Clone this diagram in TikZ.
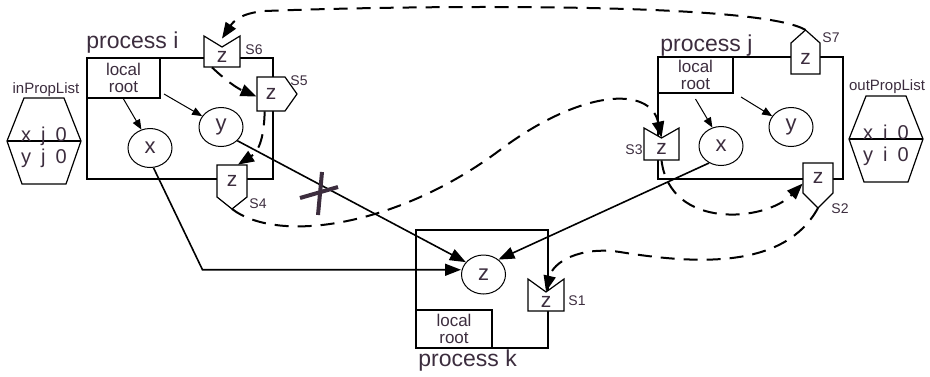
\documentclass[tikz,border=0pt]{standalone}
\usepackage{fontspec}
\setmainfont{Liberation Sans}
\usetikzlibrary{arrows.meta,positioning,shapes.geometric}
\definecolor{ink}{RGB}{60,45,62}
\tikzset{
  >={Triangle[length=8pt,width=6pt]},
  proc/.style={draw,line width=1pt,inner sep=0pt},
  root/.style={draw,line width=1pt,inner sep=0pt,align=center,
    font=\fontsize{8.5}{8.5}\selectfont,text=ink},
  var/.style={ellipse,draw,line width=0.5pt,minimum width=22pt,minimum height=19.5pt,
    inner sep=0pt,font=\fontsize{11}{13}\selectfont,text=ink},
  stubline/.style={draw=black,fill=white,line width=0.6pt},
  stubtext/.style={inner sep=0pt,font=\fontsize{10.5}{12}\selectfont,text=ink},
  tag/.style={font=\fontsize{7}{8}\selectfont,text=ink,inner sep=0pt},
  listtag/.style={font=\fontsize{7.5}{8}\selectfont,text=ink,inner sep=0pt,anchor=base},
  title/.style={font=\fontsize{11.5}{13}\selectfont,text=ink,inner sep=0pt,anchor=base west},
  entry/.style={font=\fontsize{10}{12}\selectfont,text=ink,inner sep=0pt,anchor=base},
  flow/.style={->,line width=0.8pt},
  link/.style={>={Triangle[length=5pt,width=4pt]},->,line width=0.5pt},
  msg/.style={->,line width=1pt,dash pattern=on 7pt off 4.5pt},
  % stubs: half width, half height, pointer depth (in px)
  pics/notchstub/.style n args={3}{code={
    \filldraw[stubline] (-#1,-#2) -- (0,-#2+#3) -- (#1,-#2) -- (#1,#2) -- (-#1,#2) -- cycle;
    \node[stubtext,minimum width=#1pt,minimum height=#2pt-#3pt/2] (-z) at (0,#3/2) {z};
  }},
  pics/downstub/.style n args={3}{code={
    \filldraw[stubline] (-#1,-#2) -- (#1,-#2) -- (#1,#2) -- (0,#2+#3) -- (-#1,#2) -- cycle;
    \node[stubtext,minimum width=#1pt,minimum height=#2pt] (-z) at (0,0) {z};
    \coordinate (-tip) at (0,#2+#3);
  }},
  pics/upstub/.style n args={3}{code={
    \filldraw[stubline] (-#1,#2) -- (-#1,-#2) -- (0,-#2-#3) -- (#1,-#2) -- (#1,#2) -- cycle;
    \node[stubtext,minimum width=#1pt,minimum height=#2pt] (-z) at (0,0) {z};
    \coordinate (-tip) at (0,-#2-#3);
  }},
  pics/rightstub/.style n args={3}{code={
    \filldraw[stubline] (-#1,-#2) -- (#1,-#2) -- (#1+#3,0) -- (#1,#2) -- (-#1,#2) -- cycle;
    \node[stubtext,minimum width=#1pt,minimum height=#2pt] (-z) at (0,0) {z};
    \coordinate (-tip) at (#1+#3,0);
  }},
  pics/proplist/.style={code={
    \draw[line width=0.6pt] (-20,-43) -- (20,-43) -- (37,0) -- (22,43) -- (-22,43) -- (-37,0) -- cycle;
    \draw[line width=0.8pt] (-37,0) -- (37,0);
    \node[entry] (-x) at (0,0) {x\enspace #1\enspace 0};
    \node[entry] (-y) at (0,22) {y\enspace #1\enspace 0};
  }},
}
\begin{document}
\begin{tikzpicture}[x=0.5pt,y=-0.5pt]
\useasboundingbox (0,0) rectangle (930,376);
% processes
\node[proc,minimum width=93pt,minimum height=60.5pt] (proci) at (180,118.5) {};
\node[proc,minimum width=92.5pt,minimum height=61pt] (procj) at (750.5,118) {};
\node[proc,minimum width=66pt,minimum height=59pt] (prock) at (482,289) {};
\node[title] (ti) at (86,48) {process i};
\node[title] (tj) at (660,51) {process j};
\node[title] (tk) at (418,366) {process k};
\node[root,minimum width=36.5pt,minimum height=20pt,anchor=north west] (lri) at (proci.north west) {local\\root};
\node[root,minimum width=37.5pt,minimum height=18pt,anchor=north west] (lrj) at (procj.north west) {local\\root};
\node[root,minimum width=38pt,minimum height=19pt,anchor=south west] (lrk) at (prock.south west) {local\\root};
% variables
\node[var] (xi) at (150,148) {x};
\node[var] (yi) at (221,127) {y};
\node[var] (xj) at (721,146) {x};
\node[var] (yj) at (791,127) {y};
\node[var] (zk) at (483.5,274.5) {z};
% stubs
\pic (S6) at (222,51.5) {notchstub={18}{15.5}{11}};
\pic (S5) at (271,94) {rightstub={14}{17}{12}};
\pic (S4) at (232,181) {downstub={15}{16}{12}};
\pic (S3) at (661.5,144) {notchstub={17.5}{16}{10}};
\pic (S2) at (818,178) {downstub={15}{15}{15}};
\pic (S7) at (805.5,58.5) {upstub={14.5}{15.5}{13}};
\pic (S1) at (546,295) {notchstub={18}{16}{13}};
\node[tag] (l6) at (254,50) {S6};
\node[tag] (l5) at (299,81) {S5};
\node[tag] (l4) at (258,204) {S4};
\node[tag] (l3) at (634,150) {S3};
\node[tag] (l2) at (840,209) {S2};
\node[tag] (l7) at (831,38) {S7};
\node[tag] (l1) at (577,301) {S1};
% property lists
\pic (inlist) at (44,141) {proplist=j};
\pic (outlist) at (886,139) {proplist=i};
\node[listtag] (inlbl) at (46,93) {inPropList};
\node[listtag] (outlbl) at (887,90) {outPropList};
% local references
\draw[link] (lri.south) -- (xi.115);
\draw[link] ([shift={(3,-5)}]lri.south east) -- (yi.150);
\draw[link] ([yshift=-2.5pt]lrj.south) -- (xj.115);
\draw[link] ([shift={(7,3)}]lrj.south east) -- (yj.150);
% remote references
\draw[flow] (xi.-80) -- ++(49,102) coordinate (bend) -- (bend -| zk.west);
\draw[flow] (yi.-40) -- (zk.145);
\draw[flow] (xj.-125) -- (zk.45);
\draw[ink,line width=2pt] (300,198) -- (338,187) (322,172) -- (318,215);
% messages
\draw[msg] (S7-tip) .. controls (760,2) and (420,5) .. (265,11) .. controls (240,13) and (233,22) .. ([yshift=4pt]S6-z.north);
\draw[msg] ([xshift=-5pt]S6-z.south) to[bend right=10] (S5-z.190);
\draw[msg] (S5-z.-110) .. controls (264,140) and (258,152) .. (S4-z.70);
\draw[msg] (S4-tip) .. controls (280,245) and (400,225) .. (500,150) .. controls (580,90) and (650,85) .. (S3-z.north);
\draw[msg] (S3-z.south) .. controls (670,230) and (765,222) .. (S2-z.200);
\draw[msg] (S2-tip) .. controls (785,268) and (700,265) .. (620,252) .. controls (580,246) and (553,262) .. (S1-z.north);
\end{tikzpicture}
\end{document}
